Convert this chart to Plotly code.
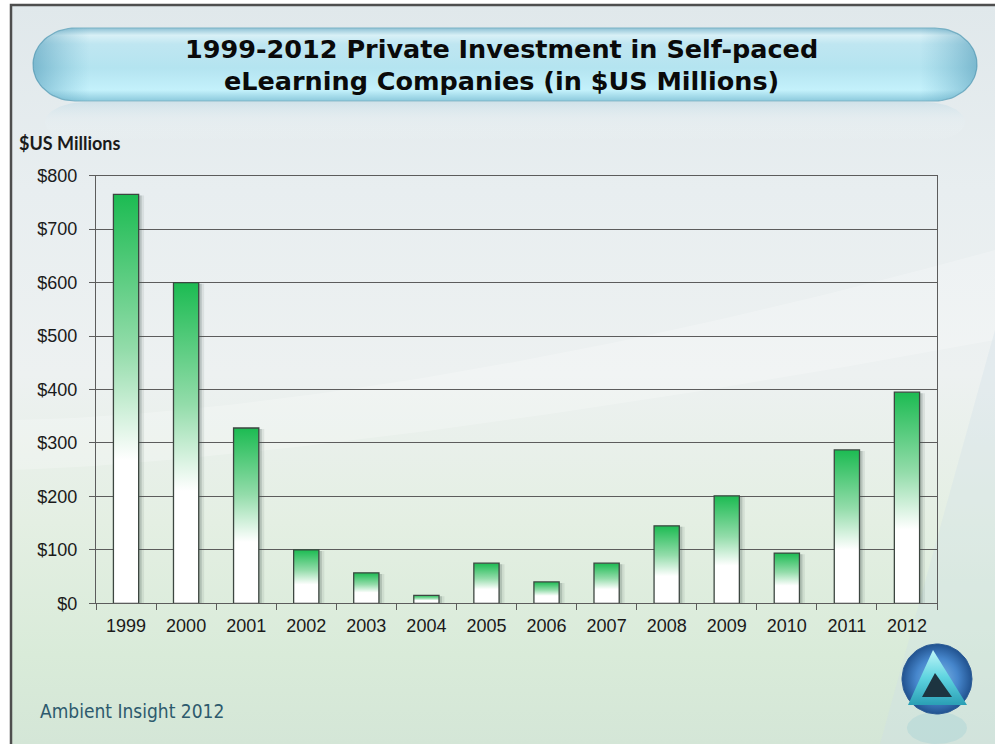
import numpy as np
import plotly.graph_objects as go

# ---------------- data ----------------
years = ["1999", "2000", "2001", "2002", "2003", "2004", "2005",
         "2006", "2007", "2008", "2009", "2010", "2011", "2012"]
investment = [765, 600, 328, 100, 57, 15, 75, 40, 75, 145, 201, 94, 287, 395]
y_ticks = [0, 100, 200, 300, 400, 500, 600, 700, 800]
y_ticktext = ["$" + str(v) for v in y_ticks]

title_line1 = "1999-2012 Private Investment in Self-paced"
title_line2 = "eLearning Companies (in $US Millions)"
y_title = "$US Millions"
footer = "Ambient Insight 2012"

# ---------------- styles ----------------
W, H = 995, 744
BAR_W = 0.42
GREEN = "#1cbb52"
OUTLINE = "#3c4640"
GRID = "#5c5c5c"
TXT = "#1a1a1a"

fig = go.Figure()


def fy(py):
    """pixel row (from top) -> background axis value (from bottom)"""
    return H - np.asarray(py, dtype=float)


# ---------- decorative background (pixel axis x / y) ----------
def add_poly(xs, ys, grad=None, color=None, line=None):
    xs = list(xs)
    ys = list(fy(ys))
    kw = dict(x=xs + [xs[0]], y=ys + [ys[0]], mode="lines",
              fill="toself", hoverinfo="skip", showlegend=False,
              xaxis="x", yaxis="y",
              line=line or dict(width=0, color="rgba(0,0,0,0)"))
    if grad is not None:
        kw["fillgradient"] = grad
    else:
        kw["fillcolor"] = color
    fig.add_trace(go.Scatter(**kw))


# slide background (colorscale 0 = bottom)
add_poly([11, 995, 995, 11], [5, 5, 744, 744],
         grad=dict(type="vertical", colorscale=[
             [0.0, "#d4e6d7"], [0.12, "#d9ebd9"], [0.3, "#e4efe3"],
             [0.5, "#edf1f1"], [0.75, "#e8eef0"], [1.0, "#e0e8eb"]]))
# soft white swoosh across the middle
t = np.linspace(0, 1, 60)
sx = 11 + t * 984
top = 420 - 170 * t ** 1.6
bot = 470 - 130 * t ** 1.4
add_poly(list(sx) + list(sx[::-1]), list(top) + list(bot[::-1]),
         color="rgba(255,255,255,0.22)")
# bluish right side tint
add_poly([760, 995, 995, 880], [744, 744, 330, 744],
         color="rgba(205,222,232,0.3)")


def pill(x0, x1, y0, y1, n=40, rx=42):
    r = (y1 - y0) / 2
    cy = (y0 + y1) / 2
    a = np.linspace(-np.pi / 2, np.pi / 2, n)
    xr = x1 - rx + rx * np.cos(a)
    yr = cy + r * np.sin(a)
    xl = x0 + rx - rx * np.cos(a)
    yl = cy - r * np.sin(a)
    return list(xr) + list(xl), list(yr) + list(yl)


# reflection under pill
rx_, ry_ = pill(45, 965, 102, 142)
add_poly(rx_, ry_, grad=dict(type="vertical", colorscale=[
    [0.0, "rgba(255,255,255,0)"], [0.6, "rgba(225,238,243,0.25)"],
    [1.0, "rgba(185,215,228,0.45)"]]))
# title pill
px_, py_ = pill(33, 977, 28, 101)
add_poly(px_, py_, grad=dict(type="vertical", colorscale=[
    [0.0, "#8ccadd"], [0.15, "#c4f1fb"], [0.45, "#b4e4f0"],
    [0.78, "#bfe6f1"], [0.9, "#d8f0f6"], [1.0, "#8fc2d5"]]),
    line=dict(width=1.2, color="#7db3c6"))
add_poly(px_, py_, grad=dict(type="horizontal", colorscale=[
    [0.0, "rgba(50,130,165,0.45)"], [0.06, "rgba(80,160,190,0.0)"],
    [0.94, "rgba(80,160,190,0.0)"], [1.0, "rgba(50,130,165,0.45)"]]))

# logo sphere
ang = np.linspace(0, 2 * np.pi, 80)
cx, cy, R = 937, 679, 35
add_poly(cx + 30 * np.cos(ang), 728 + 16 * np.sin(ang),
         color="rgba(110,190,205,0.18)")
add_poly(cx + R * np.cos(ang), cy + R * np.sin(ang),
         grad=dict(type="radial", colorscale=[
             [0.0, "#86bde9"], [0.6, "#4686cc"], [1.0, "#21528f"]]),
         line=dict(width=1, color="#2a5a95"))
add_poly([933, 908, 967], [650, 705, 705],
         grad=dict(type="vertical", colorscale=[
             [0.0, "#2a9fb5"], [0.5, "#5fd4e0"], [1.0, "#bff6f8"]]))
add_poly([935, 922, 952], [673, 697, 697], color="#1d3440")

# ---------- data bars (chart axis x2 / y2) ----------
for i, v in enumerate(investment):
    xl, xr = i - BAR_W / 2, i + BAR_W / 2
    # shadow
    for off, a in ((0.05, 0.22), (0.09, 0.10)):
        fig.add_trace(go.Scatter(
            x=[xl + off, xl + off, xr + off, xr + off, xl + off],
            y=[0, v - 2, v - 2, 0, 0], mode="lines", fill="toself",
            fillcolor=f"rgba(70,85,80,{a})", line=dict(width=0),
            hoverinfo="skip", showlegend=False, xaxis="x2", yaxis="y2"))
    fig.add_trace(go.Scatter(
        x=[xl, xl, xr, xr, xl], y=[0, v, v, 0, 0], mode="lines",
        fill="toself",
        fillgradient=dict(type="vertical", colorscale=[
            [0.0, "#ffffff"], [0.35, "#ffffff"], [0.62, "#93dcaa"],
            [1.0, GREEN]]),
        line=dict(width=1.3, color=OUTLINE),
        name=years[i], hovertemplate=years[i] + ": $%{y:.0f}M<extra></extra>",
        hoveron="fills", showlegend=False, xaxis="x2", yaxis="y2"))

# ---------- layout ----------
x2_dom = [96 / W, 937 / W]
y2_dom = [(H - 603.3) / H, (H - 175.7) / H]


def ann(text, x, py, size, family, color, anchor="center"):
    return dict(text=text, xref="x", yref="y", x=x, y=float(fy(py)),
                showarrow=False, xanchor=anchor, yanchor="middle",
                font=dict(family=family, size=size, color=color))


TITLE_FONT = "DejaVu Sans"
FOOT_FONT = "DejaVu Sans Condensed, DejaVu Sans"

fig.update_layout(
    width=W, height=H,
    margin=dict(l=0, r=0, t=0, b=0, pad=0, autoexpand=False),
    paper_bgcolor="white", plot_bgcolor="rgba(0,0,0,0)",
    showlegend=False,
    xaxis=dict(domain=[0, 1], range=[0, W], visible=False, fixedrange=True),
    yaxis=dict(domain=[0, 1], range=[0, H], visible=False, fixedrange=True),
    xaxis2=dict(domain=x2_dom, anchor="y2", range=[-0.5, 13.5],
                tickmode="array", tickvals=list(range(len(years))),
                ticktext=years, ticks="", showgrid=False,
                showline=True, linecolor=GRID, linewidth=1.2, mirror=True,
                zeroline=False, automargin=False,
                minor=dict(tickmode="array",
                           tickvals=[k - 0.5 for k in range(len(years) + 1)],
                           ticks="outside", ticklen=6, tickcolor=GRID,
                           tickwidth=1, showgrid=False),
                tickfont=dict(family="Liberation Sans, Arial", size=18,
                              color=TXT),
                ticklabelstandoff=6),
    yaxis2=dict(domain=y2_dom, anchor="x2", range=[0, 800],
                tickmode="array", tickvals=y_ticks, ticktext=y_ticktext,
                ticks="outside", ticklen=6, tickcolor=GRID,
                showgrid=True, gridcolor=GRID, gridwidth=1,
                showline=True, linecolor=GRID, linewidth=1.2, mirror=True,
                zeroline=False, automargin=False,
                tickfont=dict(family="Liberation Sans, Arial", size=18,
                              color=TXT),
                ticklabelstandoff=8),
    shapes=[dict(type="rect", xref="x", yref="y", x0=11, x1=1000,
                 y0=float(fy(5)), y1=-20,
                 line=dict(color="#4e4e4e", width=2.5),
                 fillcolor="rgba(0,0,0,0)", layer="above")],
    annotations=[
        ann("<b>" + title_line1 + "</b>", 501, 49, 25.5, TITLE_FONT,
            "#0a0a0a"),
        ann("<b>" + title_line2 + "</b>", 501, 80.5, 25.5, TITLE_FONT,
            "#0a0a0a"),
        ann("<b>" + y_title + "</b>", 17, 143, 18, "Lato, Open Sans", TXT,
            anchor="left"),
        ann(footer, 38, 711, 19, FOOT_FONT, "#2d5a6d", anchor="left"),
    ],
)

fig.write_html("out.html")
